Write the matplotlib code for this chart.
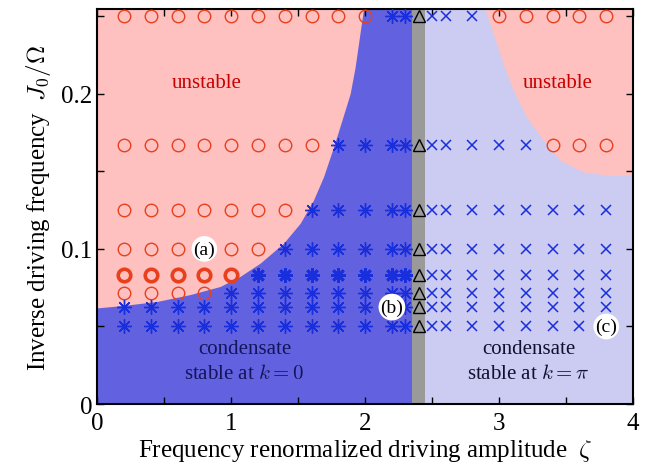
import numpy as np
import matplotlib
matplotlib.use('Agg')
import matplotlib.pyplot as plt

plt.rcParams['font.family'] = ['Liberation Serif', 'DejaVu Serif']
plt.rcParams['mathtext.fontset'] = 'cm'

# rows of the simulation grid (inverse driving frequency J0/Omega)
j_rows = [1/4, 1/6, 1/8, 1/10, 1/12, 1/14, 1/16, 1/20]
bold_row = 1/12

# left half (k=0 side): zeta grid, number of unstable points per row counted from the left
zeta_left = [0.2, 0.4, 0.6, 0.8, 1.0, 1.2, 1.4, 1.6, 1.8, 2.0, 2.2, 2.3]
n_unstable_left = [10, 8, 7, 6, 5, 4, 0, 0]

# transition line
zeta_trans = 2.4

# right half (k=pi side): zeta grid, number of stable points per row counted from the left
zeta_right = [2.5, 2.6, 2.8, 3.0, 3.2, 3.4, 3.6, 3.8]
n_stable_right = [3, 5, 8, 8, 8, 8, 8, 8]

# boundaries of the unstable regions
bound_left_x = [0, 0.19, 0.45, 0.69, 0.918, 1.067, 1.216, 1.39, 1.515, 1.614, 1.689,
                1.764, 1.826, 1.888, 1.925, 1.955, 1.99]
bound_left_y = [0.062, 0.0635, 0.0662, 0.0705, 0.0758, 0.0823, 0.0908, 0.1036, 0.1165,
                0.1314, 0.1464, 0.1656, 0.1827, 0.2, 0.217, 0.235, 0.256]
bound_right_x = [2.89, 2.958, 3.032, 3.107, 3.207, 3.331, 3.455, 3.629, 3.828, 4.0]
bound_right_y = [0.256, 0.2383, 0.219, 0.2019, 0.1848, 0.1699, 0.1571, 0.1496, 0.1474, 0.1474]

band = (2.35, 2.45)
ytop = 0.2545

c_pink = '#ffc0c0'
c_blue = '#6262e0'
c_lav = '#ccccf2'
c_gray = '#9a9a9a'
c_red = '#e8401c'
c_mark = '#1a2fdc'

fig = plt.figure(figsize=(6.52, 4.64), dpi=100)
ax = fig.add_axes([0.149, 0.127, 0.822, 0.851])

# regions
ax.axvspan(0, band[0], color=c_blue, lw=0, zorder=0)
ax.axvspan(band[1], 4, color=c_lav, lw=0, zorder=0)
ax.axvspan(band[0], band[1], color=c_gray, lw=0, zorder=0)
ax.fill_between(bound_left_x, bound_left_y, ytop + 0.01, color=c_pink, lw=0, zorder=1)
ax.fill_between(bound_right_x, bound_right_y, ytop + 0.01, color=c_pink, lw=0, zorder=1)

# markers
for j, nu, ns in zip(j_rows, n_unstable_left, n_stable_right):
    bold = (j == bold_row)
    ax.plot(zeta_left[:nu], [j] * nu, 'o', ms=9, mfc='none', mec=c_red,
            mew=2.6 if bold else 1.0, zorder=3)
    rest = zeta_left[nu:]
    ax.plot(rest, [j] * len(rest), ls='none', marker=(8, 2, 0), ms=10.5, mec=c_mark,
            mew=2.0 if bold else 1.0, zorder=3)
    ax.plot(zeta_right[:ns], [j] * ns, 'x', ms=7.5, mec=c_mark, mew=1.1, zorder=3)
    rest = zeta_right[ns:]
    ax.plot(rest, [j] * len(rest), 'o', ms=9, mfc='none', mec=c_red, mew=1.0, zorder=3)
    ax.plot([zeta_trans], [j], '^', ms=9, mfc='none', mec='black', mew=1.0, zorder=3)

# annotations
ax.text(0.82, 0.207, 'unstable', color='#c80000', fontsize=15, ha='center', va='center', zorder=4)
ax.text(3.44, 0.207, 'unstable', color='#c80000', fontsize=15, ha='center', va='center', zorder=4)
ax.text(1.1, 0.0355, 'condensate', color='#14145a', fontsize=15, ha='center', va='center', zorder=4)
ax.text(1.1, 0.0195, 'stable at $k=0$', color='#14145a', fontsize=15, ha='center', va='center', zorder=4)
ax.text(3.22, 0.0355, 'condensate', color='#101030', fontsize=15, ha='center', va='center', zorder=4)
ax.text(3.22, 0.0195, r'stable at $k=\pi$', color='#101030', fontsize=15, ha='center', va='center', zorder=4)

for lab, xx, yy in [('(a)', 0.8, 0.1), ('(b)', 2.2, 1/16), ('(c)', 3.8, 1/20)]:
    ax.text(xx, yy, lab, fontsize=14, ha='center', va='center', zorder=5,
            bbox=dict(boxstyle='circle,pad=0.1', fc='white', ec='none'))

ax.set_xlim(0, 4)
ax.set_ylim(0, ytop)
ax.set_xticks([0, 1, 2, 3, 4])
ax.set_xticks([0.5, 1.5, 2.5, 3.5], minor=True)
ax.set_yticks([0, 0.1, 0.2])
ax.set_yticklabels(['0', '0.1', '0.2'])
ax.set_yticks([0.05, 0.15, 0.25], minor=True)
ax.tick_params(which='both', direction='in', top=True, right=True, length=5, width=1, labelsize=18)
ax.tick_params(axis='x', pad=6)
for s in ax.spines.values():
    s.set_linewidth(1.5)

ax.set_xlabel(r'Frequency renormalized driving amplitude  $\zeta$', fontsize=18, labelpad=2)
ax.set_ylabel(r'Inverse driving frequency  $J_0/\Omega$', fontsize=18, labelpad=6)

fig.savefig('out.png', dpi=100)
